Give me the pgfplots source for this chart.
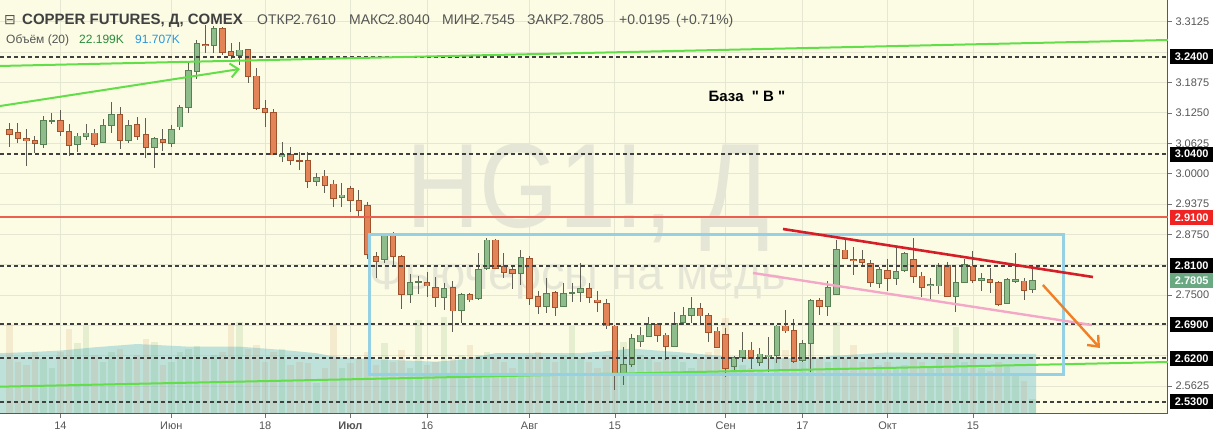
\documentclass[border=0pt]{standalone}
\usepackage{fontspec}
\setmainfont{Liberation Sans}
\newfontfamily\dejavu{DejaVu Sans}
\newfontfamily\plainsans{Liberation Sans}
\usepackage{pgfplots}
\usepackage{pgfplotstable}
\pgfplotsset{compat=1.18}
\usetikzlibrary{arrows.meta}

\definecolor{bgc}{RGB}{252,252,228}
\definecolor{gridc}{RGB}{229,231,210}
\definecolor{upfill}{RGB}{143,188,139}
\definecolor{upedge}{RGB}{88,128,84}
\definecolor{dnfill}{RGB}{226,132,88}
\definecolor{dnedge}{RGB}{160,82,45}
\definecolor{wickc}{RGB}{95,95,85}
\definecolor{dashc}{RGB}{64,64,64}
\definecolor{lvlred}{RGB}{236,94,78}
\definecolor{trendgreen}{RGB}{98,222,72}
\definecolor{boxblue}{RGB}{150,208,228}
\definecolor{trendred}{RGB}{214,30,40}
\definecolor{pinkc}{RGB}{244,168,200}
\definecolor{arroworange}{RGB}{240,128,40}
\definecolor{wmc}{RGB}{230,230,214}
\definecolor{textgray}{RGB}{85,85,85}
\definecolor{volup}{RGB}{100,170,100}
\definecolor{voldn}{RGB}{200,140,90}
\definecolor{vmac}{RGB}{130,200,210}
\definecolor{lblgreen}{RGB}{106,168,130}
\definecolor{lblred}{RGB}{240,35,35}

\newcommand\fs[1]{\fontsize{#1}{#1}\selectfont}

% rising days: index, open, high, low, close, volume (K)
\pgfplotstableread{
i o h l c v
-2 3.0603 3.1186 3.0533 3.1097 85
-1 3.1085 3.1254 3.1021 3.1095 70
2 3.0603 3.0830 3.0451 3.0774 108
3 3.0768 3.1021 3.0692 3.0836 135
5 3.0644 3.1118 3.0636 3.1000 80
6 3.0994 3.1480 3.0830 3.1221 95
8 3.0686 3.1103 3.0636 3.1000 85
11 3.0533 3.0760 3.0109 3.0727 110
13 3.0624 3.1000 3.0554 3.0912 80
14 3.0959 3.1412 3.0898 3.1365 95
15 3.1356 3.2270 3.1241 3.2132 100
16 3.2097 3.2750 3.1941 3.2682 104
18 3.2632 3.3038 3.2476 3.2991 90
21 3.2427 3.2715 3.2235 3.2544 141
26 3.0348 3.0657 3.0233 3.0397 100
30 2.9834 3.0006 2.9745 2.9916 47
33 2.9513 2.9813 2.9319 2.9560 70
38 2.8237 2.8778 2.8154 2.8716 109
41 2.7516 2.7928 2.7331 2.7763 70
42 2.7762 2.7893 2.7522 2.7770 144
45 2.7446 2.7743 2.7193 2.7640 148
47 2.7193 2.7549 2.6920 2.7516 90
49 2.7434 2.8360 2.7399 2.8031 90
50 2.8051 2.8669 2.8016 2.8634 95
54 2.7948 2.8428 2.7708 2.8278 85
57 2.7261 2.7846 2.7125 2.7537 85
59 2.7261 2.7755 2.7249 2.7537 90
60 2.7545 2.7743 2.7364 2.7553 135
61 2.7549 2.8167 2.7364 2.7640 85
66 2.5890 2.6438 2.5650 2.6076 110
67 2.6076 2.6699 2.6014 2.6611 95
68 2.6541 2.6850 2.6438 2.6679 90
69 2.6644 2.7055 2.6631 2.6899 85
72 2.6452 2.7158 2.6438 2.6920 90
73 2.6932 2.7249 2.6885 2.7090 80
74 2.7076 2.7455 2.6920 2.7228 70
79 2.6026 2.6247 2.5944 2.6220 80
80 2.6212 2.6747 2.6129 2.6370 75
82 2.6109 2.6405 2.6041 2.6288 65
83 2.6232 2.6631 2.5923 2.6267 60
84 2.6247 2.6884 2.6096 2.6864 90
87 2.6150 2.6576 2.6129 2.6508 80
88 2.6508 2.7413 2.5923 2.7385 110
90 2.7275 2.7780 2.7070 2.7656 80
91 2.7522 2.8634 2.7502 2.8442 141
96 2.7743 2.8084 2.7640 2.8031 75
98 2.7846 2.8463 2.7708 2.7981 70
99 2.8016 2.8393 2.7981 2.8346 75
102 2.7687 2.7846 2.7413 2.7722 70
103 2.7687 2.8167 2.7522 2.8119 85
105 2.7481 2.8119 2.7158 2.7763 133
106 2.7763 2.8237 2.7743 2.8134 80
108 2.7796 2.7948 2.7590 2.7846 70
111 2.7331 2.7846 2.7311 2.7825 75
112 2.7776 2.8360 2.7743 2.7825 60
114 2.7610 2.8040 2.7545 2.7805 22.2
}\up

% falling days
\pgfplotstableread{
i o h l c v
-6 3.0912 3.1048 3.0554 3.0809 138
-5 3.0850 3.1048 3.0636 3.0727 80
-4 3.0727 3.0912 3.0157 3.0677 75
-3 3.0686 3.0774 3.0418 3.0624 95
0 3.1097 3.1309 3.0774 3.0871 95
1 3.0871 3.1021 3.0363 3.0583 130
4 3.0836 3.0912 3.0554 3.0603 90
7 3.1221 3.1377 3.0500 3.0686 100
9 3.1015 3.1159 3.0692 3.0760 90
10 3.0809 3.1138 3.0315 3.0533 115
12 3.0706 3.0912 3.0472 3.0644 75
17 3.2667 3.3058 3.2488 3.2626 85
19 3.2991 3.3017 3.2441 3.2488 95
20 3.2509 3.2694 3.2353 3.2427 138
22 3.2558 3.2565 3.1859 3.1995 100
23 3.2009 3.2167 3.1309 3.1344 105
24 3.1344 3.1515 3.0965 3.1262 80
25 3.1262 3.1330 3.0375 3.0383 95
27 3.0397 3.0554 3.0177 3.0266 75
28 3.0270 3.0451 3.0074 3.0262 80
29 3.0266 3.0439 2.9698 2.9834 78
31 2.9951 3.0074 2.9607 2.9751 70
32 2.9786 2.9869 2.9319 2.9492 138
34 2.9698 2.9745 2.9216 2.9443 78
35 2.9443 2.9663 2.9128 2.9237 85
36 2.9344 2.9410 2.8237 2.8335 95
37 2.8294 2.8393 2.7846 2.8187 75
39 2.8716 2.8805 2.8119 2.8294 80
40 2.8290 2.8325 2.7208 2.7516 98
43 2.7763 2.7981 2.7467 2.7687 75
44 2.7660 2.7878 2.7261 2.7446 80
46 2.7652 2.7790 2.6747 2.7173 85
48 2.7516 2.7549 2.7364 2.7399 106
51 2.8634 2.8655 2.8031 2.8051 85
52 2.8084 2.8360 2.7846 2.7969 80
53 2.8031 2.8084 2.7619 2.7948 70
55 2.8257 2.8304 2.7296 2.7434 90
56 2.7467 2.7590 2.7105 2.7261 95
58 2.7557 2.7590 2.7076 2.7249 80
62 2.7640 2.7743 2.7331 2.7455 80
63 2.7399 2.7590 2.7158 2.7352 70
64 2.7331 2.7413 2.6796 2.6864 90
65 2.6864 2.6884 2.5547 2.5890 130
70 2.6885 2.6932 2.6541 2.6664 80
71 2.6679 2.6714 2.6164 2.6438 85
75 2.7228 2.7343 2.6932 2.7070 85
76 2.7090 2.7125 2.6541 2.6734 95
77 2.6761 2.6850 2.6405 2.6425 100
78 2.6693 2.6829 2.5821 2.5993 147
81 2.6370 2.6541 2.5973 2.6199 70
85 2.6864 2.7193 2.6714 2.6761 98
86 2.6781 2.7002 2.6109 2.6129 95
89 2.7385 2.7434 2.7090 2.7275 85
92 2.8428 2.8648 2.8237 2.8257 85
93 2.8237 2.8496 2.7914 2.8208 106
94 2.8237 2.8428 2.8084 2.8167 80
95 2.8154 2.8222 2.7673 2.7763 85
97 2.8016 2.8237 2.7590 2.7846 80
100 2.8237 2.8669 2.7743 2.7878 85
101 2.7893 2.7981 2.7467 2.7660 80
104 2.8119 2.8187 2.7467 2.7481 90
107 2.8099 2.8407 2.7743 2.7796 85
109 2.7825 2.8051 2.7549 2.7755 65
110 2.7763 2.7796 2.7275 2.7311 80
113 2.7790 2.7846 2.7399 2.7590 50
}\down

% volume moving average (20), K
\pgfplotstableread{
i v
-7.1 93
-3 95
0 97
4 102
9 107
15 103
21 103
26 98
30 93
32 88
36 84
40 82
44 80
47 83
51 93
56 93
61 93
64 96
67 100
70 97
74 93
78 88
83 86
87 85
92 90
97 94
104 93
110 92
114.4 92
}\vma

\pgfplotsset{
  base/.style={at={(0pt,0pt)}, anchor=south west, scale only axis,
    width=1168pt, height=414pt, xmin=-7.094, xmax=129.87},
  price/.style={ymin=2.5053, ymax=3.3573},
  candle/.style n args={2}{mark=none, draw=none, forget plot,
    error bars/.cd, y dir=both, y explicit, error mark=none,
    error bar style={line width=#1, draw=#2}},
}

\begin{document}
\begin{tikzpicture}
\useasboundingbox (0pt,-22pt) rectangle (1213pt,414pt);

% background and grid
\begin{axis}[base, price,
  axis background/.style={fill=bgc},
  xtick={0,13,24,34,43,55,65,78,87,97,107},
  ytick={2.5625,2.625,2.6875,2.75,2.8125,2.875,2.9375,3,3.0625,3.125,3.1875,3.25,3.3125},
  xticklabels={}, yticklabels={},
  grid=major, grid style={gridc, line width=0.8pt},
  axis line style={draw=none}, major tick length=0pt]
\end{axis}

% watermark
\node[text=wmc, font=\fs{120}, xscale=0.85, anchor=base] at (588pt,186pt) {HG1!, Д};
\node[text=wmc, font=\fs{47}, anchor=base] at (578pt,124pt) {Фьючерсы на медь};

% volume
\begin{axis}[base, ymin=0, ymax=633, hide axis]
\addplot[draw=none, fill=vmac, fill opacity=0.5] table[x=i, y=v] {\vma} \closedcycle;
\addplot[ycomb, line width=6.5pt, draw=volup, draw opacity=0.15] table[x=i, y=v] {\up};
\addplot[ycomb, line width=6.5pt, draw=voldn, draw opacity=0.15] table[x=i, y=v] {\down};
\end{axis}

% price
\begin{axis}[base, price,
  clip mode=individual,
  axis x line*=bottom, axis y line*=right,
  axis line style={line width=1pt, color=black!65},
  xtick={0,13,24,34,43,55,65,78,87,97,107},
  xticklabels={14,Июн,18,\textbf{Июл},16,Авг,15,Сен,17,Окт,15},
  ytick={2.5625,2.75,2.875,2.9375,3,3.0625,3.125,3.1875,3.3125},
  yticklabels={2.5625,2.7500,2.8750,2.9375,3.0000,3.0625,3.1250,3.1875,3.3125},
  tick align=outside, major tick length=4pt,
  tick style={black!55, line width=0.6pt},
  ticklabel style={font=\fs{11}, text=textgray}]

% wicks
\addplot[candle={1pt}{wickc}] table[x=i, y expr={(\thisrow{h}+\thisrow{l})/2}, y error expr={(\thisrow{h}-\thisrow{l})/2}] {\up};
\addplot[candle={1pt}{wickc}] table[x=i, y expr={(\thisrow{h}+\thisrow{l})/2}, y error expr={(\thisrow{h}-\thisrow{l})/2}] {\down};
% bodies
\addplot[candle={6.5pt}{upedge}] table[x=i, y expr={(\thisrow{o}+\thisrow{c})/2}, y error expr={abs(\thisrow{c}-\thisrow{o})/2+0.001}] {\up};
\addplot[candle={4.5pt}{upfill}] table[x=i, y expr={(\thisrow{o}+\thisrow{c})/2}, y error expr={max(abs(\thisrow{c}-\thisrow{o})/2-0.001,0)}] {\up};
\addplot[candle={6.5pt}{dnedge}] table[x=i, y expr={(\thisrow{o}+\thisrow{c})/2}, y error expr={abs(\thisrow{c}-\thisrow{o})/2+0.001}] {\down};
\addplot[candle={4.5pt}{dnfill}] table[x=i, y expr={(\thisrow{o}+\thisrow{c})/2}, y error expr={max(abs(\thisrow{c}-\thisrow{o})/2-0.001,0)}] {\down};

% horizontal levels
\addplot[dashc, line width=1.6pt, dash pattern=on 4pt off 3pt] coordinates {(-7.094,3.24) (129.87,3.24)};
\addplot[dashc, line width=1.6pt, dash pattern=on 4pt off 3pt] coordinates {(-7.094,3.04) (129.87,3.04)};
\addplot[dashc, line width=1.6pt, dash pattern=on 4pt off 3pt] coordinates {(-7.094,2.81) (129.87,2.81)};
\addplot[dashc, line width=1.6pt, dash pattern=on 4pt off 3pt] coordinates {(-7.094,2.69) (129.87,2.69)};
\addplot[dashc, line width=1.6pt, dash pattern=on 4pt off 3pt] coordinates {(-7.094,2.62) (129.87,2.62)};
\addplot[dashc, line width=1.6pt, dash pattern=on 4pt off 3pt] coordinates {(-7.094,2.53) (129.87,2.53)};
\addplot[lvlred, line width=1.8pt] coordinates {(-7.094,2.91) (129.87,2.91)};

% drawings
\addplot[trendgreen, line width=2pt] coordinates {(-7.094,3.2215) (129.87,3.2750)};
\addplot[trendgreen, line width=2pt] coordinates {(-7.094,2.5615) (129.87,2.6123)};
\addplot[trendgreen, line width=2pt, -{Straight Barb[length=8pt,width=14pt,line width=2pt]}] coordinates {(-7.094,3.1391) (21.05,3.2153)};
\addplot[boxblue, line width=3pt, line join=miter] coordinates {(36.23,2.8757) (117.61,2.8757) (117.61,2.5876) (36.23,2.5876)} -- cycle;
\addplot[trendred, line width=2.6pt] coordinates {(84.72,2.8860) (121.07,2.7872)};
\addplot[pinkc, line width=2.4pt] coordinates {(81.20,2.7955) (120.95,2.6884)};
\addplot[arroworange, line width=2.4pt, -{Straight Barb[length=9pt,width=15pt,line width=2.4pt]}] coordinates {(115.2,2.7708) (121.89,2.6411)};

% price labels on the scale
\tikzset{lbl/.style={anchor=west, text=white, font=\fs{11}\bfseries, minimum width=44pt, minimum height=15pt, inner sep=0pt, xshift=1.5pt}}
\node[lbl, fill=black] at (axis cs:129.87,3.24) {3.2400};
\node[lbl, fill=black] at (axis cs:129.87,3.04) {3.0400};
\node[lbl, fill=lblred] at (axis cs:129.87,2.91) {2.9100};
\node[lbl, fill=black] at (axis cs:129.87,2.81) {2.8100};
\node[lbl, fill=lblgreen] at (axis cs:129.87,2.7805) {2.7805};
\node[lbl, fill=black] at (axis cs:129.87,2.69) {2.6900};
\node[lbl, fill=black] at (axis cs:129.87,2.62) {2.6200};
\node[lbl, fill=black] at (axis cs:129.87,2.53) {2.5300};
\end{axis}

% header
\node[anchor=base west, inner sep=0pt, text=textgray, font=\dejavu\fs{14}] at (4pt,389pt) {⊟};
\node[anchor=base west, inner sep=0pt, text=black!75, font=\fs{15}\bfseries] at (22pt,389pt) {COPPER FUTURES, Д, COMEX};
\tikzset{hd/.style={anchor=base west, inner sep=0pt, text=textgray, font=\fs{14}}}
\node[hd] at (257pt,389pt) {ОТКР};
\node[hd] at (293pt,389pt) {2.7610};
\node[hd] at (349pt,389pt) {МАКС};
\node[hd] at (387pt,389pt) {2.8040};
\node[hd] at (442pt,389pt) {МИН};
\node[hd] at (472pt,389pt) {2.7545};
\node[hd] at (527pt,389pt) {ЗАКР};
\node[hd] at (561pt,389pt) {2.7805};
\node[hd] at (619pt,389pt) {+0.0195};
\node[hd] at (676pt,389pt) {(+0.71\%)};
\node[anchor=base west, inner sep=0pt, text=textgray, font=\fs{12}] at (6pt,370pt) {Объём (20)};
\node[anchor=base west, inner sep=0pt, text={rgb,255:red,40;green,140;blue,60}, font=\fs{12}] at (79pt,370pt) {22.199K};
\node[anchor=base west, inner sep=0pt, text={rgb,255:red,40;green,150;blue,220}, font=\fs{12}] at (135pt,370pt) {91.707K};

\node[font=\plainsans\fs{15}\bfseries, text=black] at (747pt,318pt) {База \ " В "};
\end{tikzpicture}
\end{document}
